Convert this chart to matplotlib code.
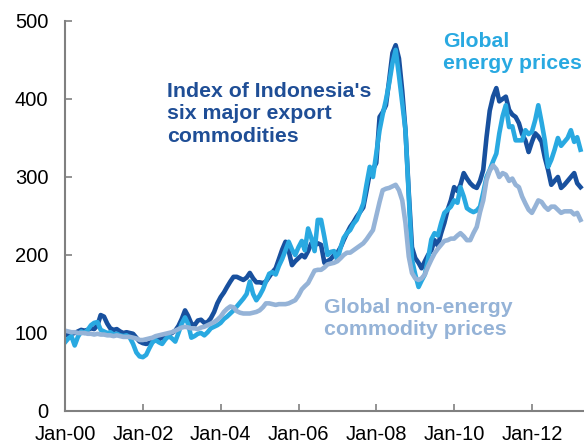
import matplotlib
matplotlib.use("Agg")
import matplotlib.pyplot as plt
import matplotlib.dates as mdates
import pandas as pd

plt.rcParams['font.family'] = ['Liberation Sans', 'DejaVu Sans']

# monthly, Jan-2000 .. Apr-2013 (index, Jan-2000 ~ 100)
dates = pd.date_range("2000-01-01", periods=160, freq="MS")

indonesia = [
    98, 97, 99, 100, 102, 104, 103, 104, 106, 105, 110, 123,
    121, 112, 106, 104, 105, 102, 100, 101, 100, 99, 94, 89,
    87, 86, 87, 89, 91, 92, 94, 96, 98, 100, 103, 109,
    118, 129, 122, 112, 110, 116, 117, 113, 114, 119, 127, 138,
    146, 152, 159, 166, 172, 172, 170, 168, 171, 177, 170, 165,
    165, 164, 166, 172, 178, 183, 195, 207, 217, 205, 187, 192,
    196, 200, 197, 205, 215, 212, 215, 213, 190, 192, 195, 200,
    203, 210, 219, 228, 236, 242, 249, 255, 261, 282, 305, 310,
    318, 377, 383, 392, 424, 459, 469, 452, 410, 360, 280, 210,
    196, 190, 183, 192, 200, 206, 219, 212, 228, 241, 258, 270,
    287, 282, 290, 305, 298, 292, 288, 286, 295, 309, 351, 385,
    403, 414, 397, 400, 403, 386, 380, 377, 369, 355, 347, 332,
    345, 356, 352, 345, 325, 309, 290, 295, 300, 286, 290, 295,
    300, 305, 292, 287,
]

energy = [
    88, 93, 96, 84, 95, 102, 100, 104, 110, 113, 114, 104,
    102, 100, 101, 98, 99, 97, 96, 97, 94, 86, 75, 70,
    69, 72, 80, 88, 91, 88, 86, 92, 96, 93, 89, 100,
    112, 120, 112, 94, 96, 99, 100, 97, 101, 106, 108, 110,
    113, 118, 121, 125, 129, 134, 139, 144, 150, 166, 150, 142,
    148, 156, 166, 176, 178, 175, 186, 195, 206, 217, 207, 200,
    210, 218, 206, 234, 222, 205, 245, 245, 223, 200, 204, 205,
    193, 210, 222, 228, 232, 240, 245, 255, 266, 290, 313, 300,
    330, 360, 380, 399, 420, 446, 463, 430, 395, 360, 275, 194,
    175, 159, 167, 175, 195, 220, 228, 225, 241, 254, 258, 262,
    270, 267, 287, 275, 260, 257, 255, 257, 262, 280, 300, 309,
    320, 330, 356, 378, 392, 364, 365, 347, 347, 347, 360, 355,
    358, 373, 392, 370, 347, 313, 322, 335, 350, 340, 345, 350,
    360, 345, 351, 335,
]

non_energy = [
    103, 102, 101, 101, 100, 100, 100, 99, 99, 98, 99, 98,
    98, 97, 97, 96, 97, 96, 95, 95, 95, 94, 93, 91,
    91, 92, 93, 94, 96, 97, 98, 99, 100, 101, 103, 105,
    107, 108, 107, 106, 106, 105, 107, 108, 110, 112, 114, 117,
    121, 127, 131, 134, 133, 128, 126, 125, 125, 125, 126, 127,
    129, 133, 138, 138, 137, 136, 137, 137, 137, 138, 140, 142,
    148, 156, 160, 164, 172, 180, 181, 181, 184, 188, 189, 190,
    192, 196, 200, 203, 203, 206, 209, 212, 215, 220, 226, 232,
    250, 268, 283, 285, 286, 288, 290, 283, 270, 241, 198, 177,
    170, 168, 170, 175, 185, 194, 202, 208, 213, 218, 219, 221,
    221, 225, 228, 224, 219, 219, 228, 236, 255, 270, 296, 308,
    315, 310, 300, 305, 303, 295, 298, 290, 287, 275, 266, 258,
    254, 262, 270, 268, 262, 258, 262, 262, 258, 254, 256, 256,
    256, 252, 254, 245,
]

dark_blue = "#18509E"
light_blue = "#29A9E1"
grey_blue = "#95B3D7"

fig = plt.figure(figsize=(5.84, 4.47), dpi=100)
ax = fig.add_axes([65/584, 36/447, 519/584, 390/447])

ax.plot(dates, indonesia, color=dark_blue, lw=3.3, solid_joinstyle='round')
ax.plot(dates, energy, color=light_blue, lw=3.3, solid_joinstyle='round')
ax.plot(dates, non_energy, color=grey_blue, lw=3.3, solid_joinstyle='round')

ax.set_ylim(0, 500)
ax.set_yticks([0, 100, 200, 300, 400, 500])
ax.set_xlim(pd.Timestamp("2000-01-01"), pd.Timestamp("2013-05-04"))
ax.xaxis.set_major_locator(mdates.YearLocator(2))
ax.xaxis.set_major_formatter(mdates.DateFormatter("%b-%y"))

for s in ["top", "right"]:
    ax.spines[s].set_visible(False)
for s in ["left", "bottom"]:
    ax.spines[s].set_color("#808080")
    ax.spines[s].set_linewidth(1.5)
ax.tick_params(axis="both", direction="in", length=5, width=1.2, color="#808080",
               labelsize=14.5, labelcolor="black")
ax.tick_params(axis="y", pad=12)
ax.tick_params(axis="x", pad=10)

ax.text(pd.Timestamp("2002-08-20"), 381, "Index of Indonesia's\nsix major export\ncommodities",
        color="#1F4E96", fontsize=15.3, fontweight="bold", va="center", ha="left", linespacing=1.22)
ax.text(pd.Timestamp("2009-09-20"), 460, "Global\nenergy prices",
        color=light_blue, fontsize=15.3, fontweight="bold", va="center", ha="left", linespacing=1.22)
ax.text(pd.Timestamp("2006-09-01"), 119, "Global non-energy\ncommodity prices",
        color=grey_blue, fontsize=15.3, fontweight="bold", va="center", ha="left", linespacing=1.22)

fig.savefig("out.png", dpi=100)
